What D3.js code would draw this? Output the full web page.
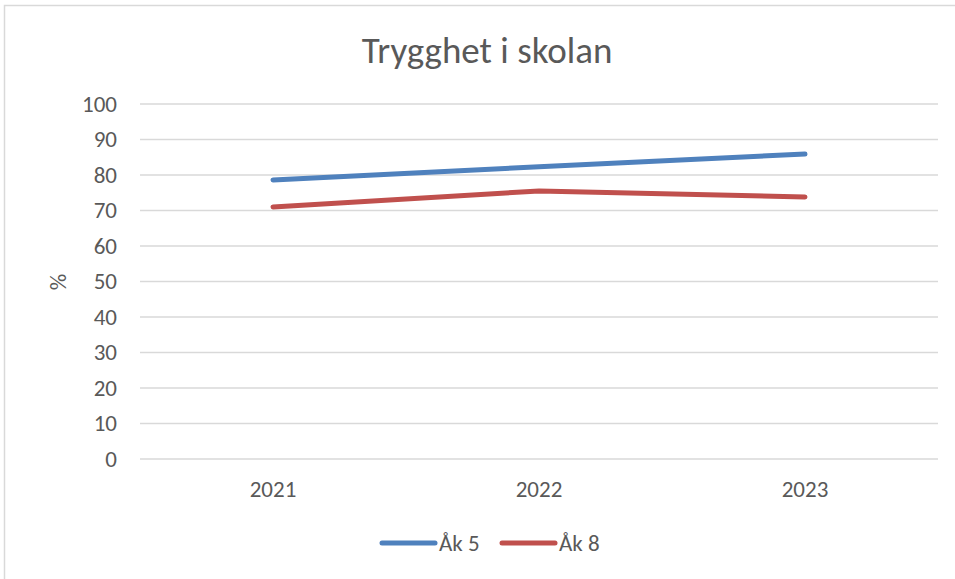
<!DOCTYPE html>
<html>
<head>
<meta charset="utf-8">
<script src="https://cdn.jsdelivr.net/npm/d3@7"></script>
<style>
  body { margin: 0; background: #fff; }
  text { font-family: Carlito, "Liberation Sans Narrow", "Open Sans", sans-serif; fill: #595959; }
</style>
</head>
<body>
<svg id="chart"></svg>
<script>
const svgWidth = 955, svgHeight = 579;
const margin = {top: 104, right: 17, bottom: 120, left: 140},
    width = svgWidth - margin.left - margin.right,
    height = svgHeight - margin.top - margin.bottom;

// data
const years = ["2021", "2022", "2023"];
const ak5 = [78.6, 82.3, 85.9];
const ak8 = [71.0, 75.5, 73.8];
const seriesNames = ["Åk 5", "Åk 8"];
const seriesColors = ["#4f81bd", "#c0504d"];
const yTicks = [0, 10, 20, 30, 40, 50, 60, 70, 80, 90, 100];

const chart = d3.select("#chart")
    .attr("width", svgWidth)
    .attr("height", svgHeight);

// outer frame
chart.append("rect")
    .attr("x", 4.5).attr("y", 5.5)
    .attr("width", svgWidth + 10).attr("height", svgHeight + 10)
    .attr("fill", "none")
    .attr("stroke", "#d9d9d9")
    .attr("stroke-width", 1.5);

chart.append("text")
    .attr("x", 487).attr("y", 63)
    .attr("text-anchor", "middle")
    .style("font-size", "37px")
    .style("font-weight", "300")
    .text("Trygghet i skolan");

const g = chart.append("g").attr("transform", `translate(${margin.left},${margin.top})`);

var xScale = d3.scaleBand().domain(years).range([0, width]);
var yScale = d3.scaleLinear().domain([0, 100]).range([height, 0]);

// gridlines
g.append("g").selectAll("line")
    .data(yTicks)
    .enter().append("line")
    .attr("x1", 0).attr("x2", width)
    .attr("y1", d => yScale(d)).attr("y2", d => yScale(d))
    .attr("stroke", "#d9d9d9")
    .attr("stroke-width", 1.5);

// y axis labels
var yAxis = d3.axisLeft(yScale).tickValues(yTicks).tickSize(0).tickPadding(23);
g.append("g").call(yAxis)
    .call(a => a.select(".domain").remove())
    .selectAll("text")
    .style("font-size", "23px")
    .attr("fill", "#595959");

// x axis labels
var xAxis = d3.axisBottom(xScale).tickSize(0).tickPadding(22);
g.append("g").attr("transform", `translate(0,${height})`).call(xAxis)
    .call(a => a.select(".domain").remove())
    .selectAll("text")
    .style("font-size", "23px")
    .attr("fill", "#595959");

chart.append("text")
    .attr("transform", "translate(66,282) rotate(-90)")
    .attr("text-anchor", "middle")
    .style("font-size", "23px")
    .text("%");

// lines
var valueline = d3.line()
    .x((d, i) => xScale(years[i]) + xScale.bandwidth() / 2)
    .y(d => yScale(d));

[ak5, ak8].forEach(function(s, i) {
    g.append("path")
        .datum(s)
        .attr("d", valueline)
        .attr("fill", "none")
        .attr("stroke", seriesColors[i])
        .attr("stroke-width", 5)
        .attr("stroke-linecap", "round")
        .attr("stroke-linejoin", "round");
});

// legend
const legendX = [382, 502];
seriesNames.forEach(function(name, i) {
    const lg = chart.append("g").attr("transform", `translate(${legendX[i]},543)`);
    lg.append("line")
        .attr("x1", 0).attr("x2", 53)
        .attr("stroke", seriesColors[i])
        .attr("stroke-width", 5)
        .attr("stroke-linecap", "round");
    lg.append("text")
        .attr("x", 57).attr("y", 8)
        .style("font-size", "23px")
        .text(name);
});
</script>
</body>
</html>
